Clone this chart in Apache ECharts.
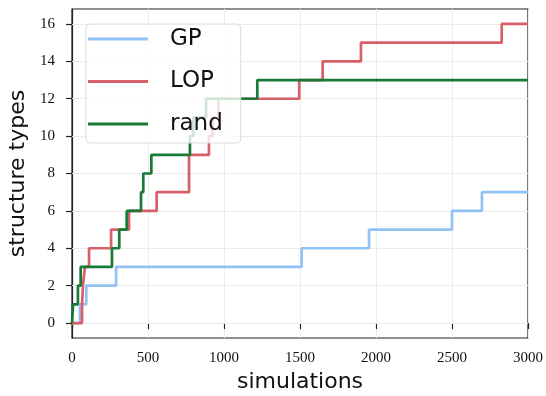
<!DOCTYPE html>
<html><head><meta charset="utf-8">
<script src="https://cdn.jsdelivr.net/npm/echarts@6/dist/echarts.min.js"></script>
<style>html,body{margin:0;padding:0;background:#fff}#c{width:546px;height:396px}</style>
</head><body><div id="c"></div>
<script>
const seriesNames = ['GP', 'LOP', 'rand'];
const gpSteps = [[0,0],[52,1],[94,2],[290,3],[1511,4],[1954,5],[2500,6],[2697,7],[3000,7]];
const lopSteps = [[0,0],[66,1],[72,2],[85,3],[112,4],[257,5],[375,6],[557,7],[770,9],[901,10],[925,11],[963,12],[1495,13],[1649,14],[1901,15],[2827,16],[3000,16]];
const randSteps = [[0,0],[7,1],[39,2],[57,3],[263,4],[311,5],[360,6],[454,7],[469,8],[522,9],[776,10],[798,11],[882,12],[1219,13],[3000,13]];
const yTicks = [0,2,4,6,8,10,12,14,16];
const colors = ['#92c1f6', '#d65f68', '#177a35'];

const chart = echarts.init(document.getElementById('c'), null, {renderer:'canvas'});
const tickFont = {fontFamily:'Liberation Serif', fontSize:15, color:'#111'};
const mk = (name, data, color) => ({
  name, type:'line', step:'end', data, showSymbol:false, symbol:'none',
  lineStyle:{color, width:2.7}, itemStyle:{color}, z:3, animation:false
});
chart.setOption({
  animation:false,
  grid:{left:72, right:18, top:9, bottom:58, outerBoundsMode:'none', containLabel:false,
    show:true, borderColor:'#222', borderWidth:1.2, backgroundColor:'transparent'},
  legend:{
    orient:'vertical', left:86, top:24, icon:'rect', itemWidth:60, itemHeight:3,
    itemGap:18.5, padding:[3,18,7,2],
    backgroundColor:'rgba(255,255,255,0.8)', borderColor:'#dcdcdc', borderWidth:1, borderRadius:4,
    textStyle:{fontFamily:'DejaVu Sans', fontSize:23, color:'#111', lineHeight:24, padding:[0,0,0,17]},
    data:seriesNames
  },
  xAxis:{
    type:'value', min:0, max:3000, interval:500,
    name:'simulations', nameLocation:'middle', nameGap:32,
    nameTextStyle:{fontFamily:'DejaVu Sans', fontSize:22, color:'#111'},
    axisLine:{show:true, lineStyle:{color:'#222', width:1.2}},
    axisTick:{show:true, length:6, lineStyle:{color:'#222', width:1.2}},
    axisLabel:Object.assign({margin:13, formatter:v => String(v)}, tickFont),
    splitLine:{show:true, lineStyle:{color:'#ebebeb', width:1}}
  },
  yAxis:{
    type:'value', min:-0.8, max:16.8,
    name:'structure types', nameLocation:'middle', nameGap:35,
    nameTextStyle:{fontFamily:'DejaVu Sans', fontSize:22, color:'#111'},
    axisLine:{show:true, lineStyle:{color:'#222', width:1.2}},
    axisTick:{show:true, length:6, customValues:yTicks, lineStyle:{color:'#222', width:1.2}},
    axisLabel:Object.assign({margin:17, customValues:yTicks, formatter:v => String(v)}, tickFont),
    splitLine:{show:false}
  },
  series:[
    {type:'line', data:[], z:1, silent:true, markLine:{z:1, zlevel:0, silent:true, symbol:'none', label:{show:false},
      lineStyle:{color:'#ebebeb', width:1, type:'solid'}, animation:false,
      data:yTicks.map(v => ({yAxis:v}))}},
    mk(seriesNames[0], gpSteps, colors[0]),
    mk(seriesNames[1], lopSteps, colors[1]),
    mk(seriesNames[2], randSteps, colors[2])
  ]
});
</script></body></html>
